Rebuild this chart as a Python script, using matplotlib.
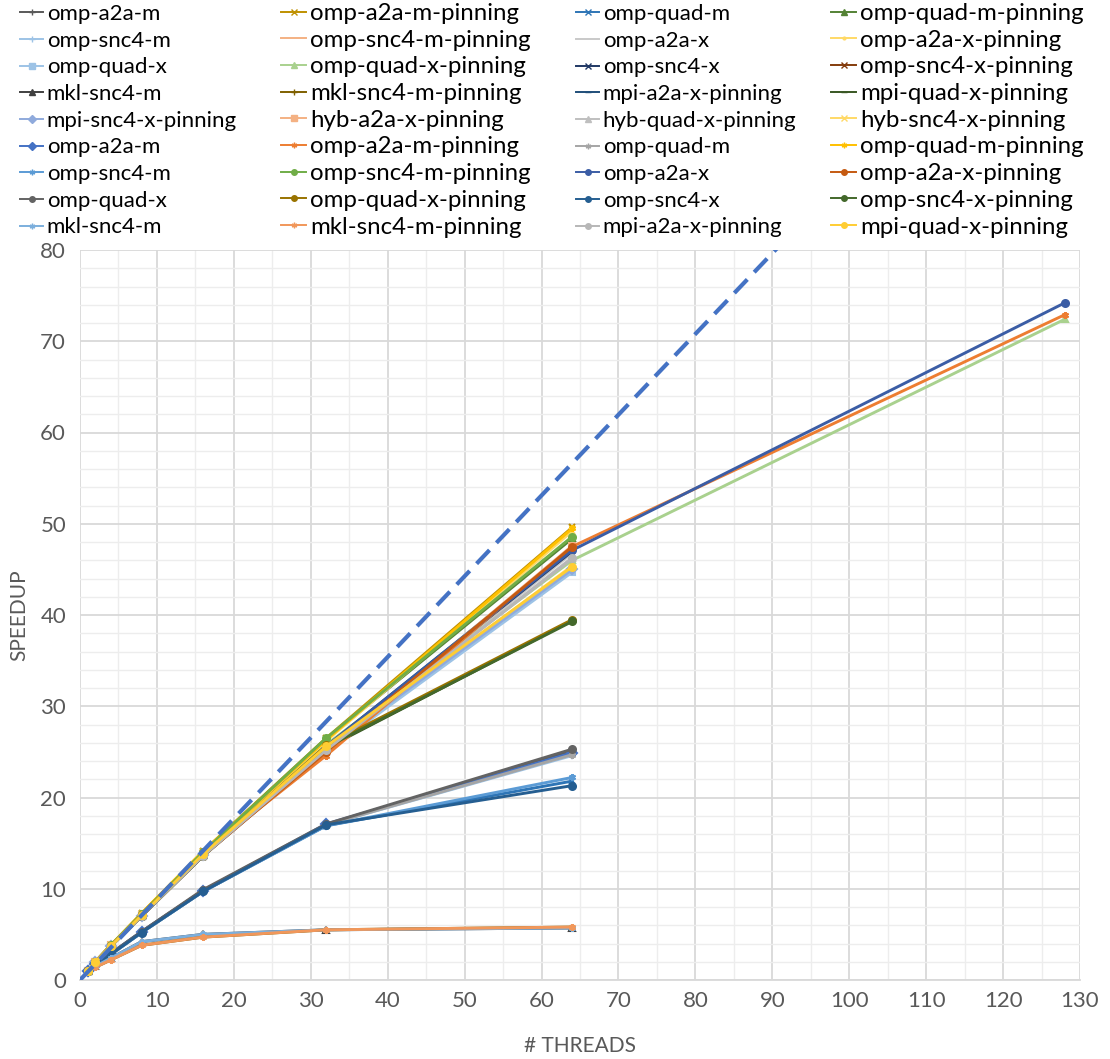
import matplotlib
matplotlib.use("Agg")
import matplotlib.pyplot as plt
from matplotlib.lines import Line2D
from matplotlib.ticker import MultipleLocator

plt.rcParams['font.family'] = ['Lato', 'DejaVu Sans']

# Thread counts used in the runs
threads = [1, 2, 4, 8, 16, 32, 64]
threads_ext = [1, 2, 4, 8, 16, 32, 64, 128]

# Ideal-scaling reference (dashed)
ideal_x = [0, 100]
ideal_y = [0, 88.5]

# ---- first set of runs ----
a_omp_a2a_m = [1.0, 1.7, 2.9, 5.3, 9.8, 17.0, 25.1]
a_omp_a2a_m_pin = [1.0, 2.0, 3.8, 7.3, 14.1, 26.5, 49.6]
a_omp_quad_m = [1.0, 1.6, 2.8, 5.2, 9.7, 16.9, 21.8]
a_omp_quad_m_pin = [1.0, 2.0, 3.8, 7.2, 14.0, 26.4, 48.4]
a_omp_snc4_m = [1.0, 1.6, 2.8, 5.2, 9.7, 17.0, 24.6]
a_omp_snc4_m_pin = [1.0, 2.0, 3.7, 7.0, 13.7, 24.9, 47.4]
a_omp_a2a_x = [1.0, 2.0, 3.7, 7.1, 13.8, 25.3, 46.8]
a_omp_a2a_x_pin = [1.0, 2.0, 3.7, 7.0, 13.7, 25.2, 45.4]
a_omp_quad_x = [1.0, 2.0, 3.7, 7.0, 13.6, 25.0, 44.7]
a_omp_quad_x_pin = [1.0, 2.0, 3.8, 7.1, 13.9, 25.8, 46.0, 72.4]
a_omp_snc4_x = [1.0, 2.0, 3.7, 7.1, 13.7, 25.5, 47.0]
a_omp_snc4_x_pin = [1.0, 2.0, 3.7, 7.0, 13.6, 25.1, 47.3]
a_mkl_snc4_m = [1.0, 1.5, 2.4, 4.2, 5.0, 5.5, 5.7]
a_mkl_snc4_m_pin = [1.0, 1.4, 2.2, 3.8, 4.7, 5.5, 5.8]
a_mpi_a2a_x_pin = [1.0, 2.0, 3.7, 7.1, 13.7, 25.6, 47.2]
a_mpi_quad_x_pin = [1.0, 2.0, 3.7, 7.0, 13.6, 25.4, 39.4]
a_mpi_snc4_x_pin = [1.0, 2.0, 3.7, 7.0, 13.7, 25.3, 45.0]
a_hyb_a2a_x_pin = [1.0, 2.0, 3.8, 7.1, 13.8, 25.0, 47.6]
a_hyb_quad_x_pin = [1.0, 2.0, 3.7, 7.0, 13.7, 25.2, 46.3]
a_hyb_snc4_x_pin = [1.0, 2.0, 3.8, 7.2, 14.0, 26.2, 49.2]

# ---- second set of runs ----
b_omp_a2a_m = [1.0, 1.7, 2.9, 5.3, 9.8, 17.1, 24.9]
b_omp_a2a_m_pin = [1.0, 2.0, 3.8, 7.0, 13.9, 24.6, 47.5, 72.9]
b_omp_quad_m = [1.0, 1.6, 2.8, 5.2, 9.7, 17.0, 24.7]
b_omp_quad_m_pin = [1.0, 2.0, 3.8, 7.3, 14.1, 26.3, 49.5]
b_omp_snc4_m = [1.0, 1.6, 2.8, 5.2, 9.7, 16.9, 22.2]
b_omp_snc4_m_pin = [1.0, 2.0, 3.8, 7.2, 14.0, 26.5, 48.6]
b_omp_a2a_x = [1.0, 2.0, 3.7, 7.1, 13.7, 25.6, 47.1, 74.2]
b_omp_a2a_x_pin = [1.0, 2.0, 3.7, 7.0, 13.6, 25.0, 47.5]
b_omp_quad_x = [1.0, 1.7, 2.9, 5.3, 9.9, 17.1, 25.3]
b_omp_quad_x_pin = [1.0, 2.0, 3.7, 7.1, 13.7, 25.7, 39.5]
b_omp_snc4_x = [1.0, 1.6, 2.8, 5.2, 9.7, 17.0, 21.3]
b_omp_snc4_x_pin = [1.0, 2.0, 3.7, 7.0, 13.6, 25.5, 39.3]
b_mkl_snc4_m = [1.0, 1.5, 2.4, 4.2, 5.0, 5.5, 5.7]
b_mkl_snc4_m_pin = [1.0, 1.4, 2.2, 3.8, 4.7, 5.5, 5.8]
b_mpi_a2a_x_pin = [1.0, 2.0, 3.7, 7.0, 13.6, 25.2, 46.2]
b_mpi_quad_x_pin = [1.0, 2.0, 3.7, 7.1, 13.8, 25.6, 45.3]

labels = [
    "omp-a2a-m", "omp-a2a-m-pinning", "omp-quad-m", "omp-quad-m-pinning",
    "omp-snc4-m", "omp-snc4-m-pinning", "omp-a2a-x", "omp-a2a-x-pinning",
    "omp-quad-x", "omp-quad-x-pinning", "omp-snc4-x", "omp-snc4-x-pinning",
    "mkl-snc4-m", "mkl-snc4-m-pinning", "mpi-a2a-x-pinning", "mpi-quad-x-pinning",
    "mpi-snc4-x-pinning", "hyb-a2a-x-pinning", "hyb-quad-x-pinning", "hyb-snc4-x-pinning",
    "omp-a2a-m", "omp-a2a-m-pinning", "omp-quad-m", "omp-quad-m-pinning",
    "omp-snc4-m", "omp-snc4-m-pinning", "omp-a2a-x", "omp-a2a-x-pinning",
    "omp-quad-x", "omp-quad-x-pinning", "omp-snc4-x", "omp-snc4-x-pinning",
    "mkl-snc4-m", "mkl-snc4-m-pinning", "mpi-a2a-x-pinning", "mpi-quad-x-pinning",
]

series = [
    a_omp_a2a_m, a_omp_a2a_m_pin, a_omp_quad_m, a_omp_quad_m_pin,
    a_omp_snc4_m, a_omp_snc4_m_pin, a_omp_a2a_x, a_omp_a2a_x_pin,
    a_omp_quad_x, a_omp_quad_x_pin, a_omp_snc4_x, a_omp_snc4_x_pin,
    a_mkl_snc4_m, a_mkl_snc4_m_pin, a_mpi_a2a_x_pin, a_mpi_quad_x_pin,
    a_mpi_snc4_x_pin, a_hyb_a2a_x_pin, a_hyb_quad_x_pin, a_hyb_snc4_x_pin,
    b_omp_a2a_m, b_omp_a2a_m_pin, b_omp_quad_m, b_omp_quad_m_pin,
    b_omp_snc4_m, b_omp_snc4_m_pin, b_omp_a2a_x, b_omp_a2a_x_pin,
    b_omp_quad_x, b_omp_quad_x_pin, b_omp_snc4_x, b_omp_snc4_x_pin,
    b_mkl_snc4_m, b_mkl_snc4_m_pin, b_mpi_a2a_x_pin, b_mpi_quad_x_pin,
]

colors = [
    "#595959", "#BF9000", "#2E75B6", "#548235",
    "#9DC3E6", "#F4B183", "#C9C9C9", "#FFD966",
    "#9DC3E6", "#A9D18E", "#203864", "#843C0C",
    "#404040", "#7F6000", "#1F4E79", "#385723",
    "#8FAADC", "#F4B183", "#BFBFBF", "#FFD966",
    "#4472C4", "#ED7D31", "#A5A5A5", "#FFC000",
    "#5B9BD5", "#70AD47", "#3B5DA5", "#C55A11",
    "#636363", "#997300", "#255E91", "#43682B",
    "#7CAFDD", "#F1975A", "#B7B7B7", "#FFCD33",
]

STAR = (6, 2, 0)
markers = [
    "+", "x", "x", "^",
    "+", None, None, ".",
    "s", "^", "x", "x",
    "^", "+", "_", "_",
    "D", "s", "^", "x",
    "D", STAR, STAR, STAR,
    STAR, "o", "o", "o",
    "o", "o", "o", "o",
    STAR, STAR, "o", "o",
]

W, H = 1110, 1059
fig = plt.figure(figsize=(W / 100, H / 100), dpi=100)
ax = fig.add_axes([80 / W, 1 - 980 / H, 1000 / W, 730 / H])

handles = []
for vals, lab, col, mk in zip(series, labels, colors, markers):
    xs = threads_ext[:len(vals)]
    ax.plot(xs, vals, color=col, lw=2.1, marker=mk, markersize=5,
            markeredgewidth=1.5, markeredgecolor=col, markerfacecolor=col,
            solid_joinstyle='round', zorder=3)
    handles.append(Line2D([], [], color=col, lw=1.4, marker=mk, markersize=4,
                          markeredgewidth=1.0, markeredgecolor=col,
                          markerfacecolor=col))

ax.plot(ideal_x, ideal_y, color="#4472C4", lw=3.0, dashes=(4.5, 2.4), zorder=4)

ax.set_xlim(0, 130)
ax.set_ylim(0, 80)
ax.xaxis.set_major_locator(MultipleLocator(10))
ax.yaxis.set_major_locator(MultipleLocator(10))
ax.xaxis.set_minor_locator(MultipleLocator(5))
ax.yaxis.set_minor_locator(MultipleLocator(2))
ax.grid(which='major', color="#D9D9D9", lw=1.3)
ax.grid(which='minor', color="#EDEDED", lw=1.0)
ax.set_axisbelow(True)
for side in ("top", "right", "left"):
    ax.spines[side].set_visible(False)
ax.spines["bottom"].set_color("#D9D9D9")
ax.spines["bottom"].set_linewidth(1.3)
ax.tick_params(which='both', length=0, labelsize=16, labelcolor="#595959")
ax.tick_params(axis='x', pad=8)
ax.tick_params(axis='y', pad=10)
ax.set_xlabel("# THREADS", fontsize=15, color="#595959", labelpad=18)
ax.set_ylabel("SPEEDUP", fontsize=15, color="#595959", labelpad=8)

# Legend laid out row by row in four columns
col_x = [20, 281, 576, 831]
col_fs = [16, 17.3, 16, 17.3]
col_ls = [0.30, 0.237, 0.30, 0.237]
col_top = [4, 3, 4, 3]
for c in range(4):
    idx = [r * 4 + c for r in range(9)]
    fig.legend([handles[i] for i in idx], [labels[i] for i in idx],
               loc='upper left', bbox_to_anchor=(col_x[c] / W, 1 - col_top[c] / H),
               frameon=False, fontsize=col_fs[c], handlelength=1.05,
               handletextpad=0.15, labelspacing=col_ls[c], borderpad=0,
               borderaxespad=0)

fig.savefig("out.png", dpi=100)
